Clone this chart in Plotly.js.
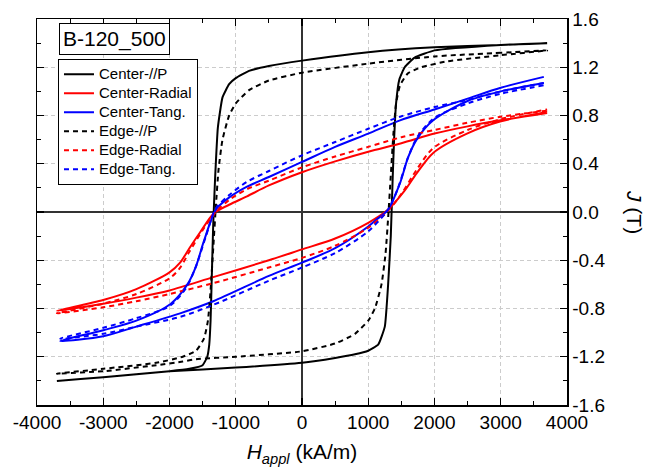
<!DOCTYPE html>
<html><head><meta charset="utf-8">
<script src="https://cdn.plot.ly/plotly-3.0.1.min.js"></script>
<style>html,body{margin:0;padding:0;background:#fff}</style>
</head><body><div id="chart" style="width:649px;height:471px"></div>
<script>
// ---- data (H in kA/m, J in T); each loop = descending branch then ascending branch ----
const seriesNames = ["Center-//P", "Center-Radial", "Center-Tang.", "Edge-//P", "Edge-Radial", "Edge-Tang."];

const centerP_H = [3700, 3000, 2000, 1000, 0, -500, -800, -1000, -1100, -1200, -1270, -1310, -1340, -1360, -1380, -1400, -1430, -1500, -1700, -2000, -3000, -3700,
                   -3000, -2000, -1000, 0, 500, 800, 1000, 1150, 1250, 1300, 1340, 1370, 1390, 1420, 1470, 1550, 1700, 2000, 3000, 3700];
const centerP_J = [1.40, 1.385, 1.365, 1.325, 1.255, 1.21, 1.17, 1.11, 1.06, 0.95, 0.70, 0.30, -0.10, -0.50, -0.90, -1.10, -1.20, -1.27, -1.30, -1.32, -1.37, -1.40,
                   -1.37, -1.32, -1.29, -1.25, -1.21, -1.18, -1.15, -1.10, -0.95, -0.60, -0.20, 0.30, 0.60, 0.90, 1.10, 1.20, 1.28, 1.34, 1.385, 1.40];

const edgeP_H = [3700, 3000, 2000, 1000, 0, -500, -800, -1000, -1100, -1200, -1260, -1300, -1340, -1380, -1420, -1480, -1600, -1800, -2200, -3000, -3700,
                 -3000, -2200, -1800, -1600, -1000, 0, 500, 800, 1000, 1100, 1200, 1260, 1300, 1340, 1380, 1420, 1480, 1600, 1800, 2200, 3000, 3700];
const edgeP_J = [1.34, 1.32, 1.29, 1.23, 1.155, 1.09, 1.01, 0.90, 0.80, 0.60, 0.35, 0.05, -0.30, -0.65, -0.90, -1.05, -1.15, -1.20, -1.25, -1.30, -1.34,
                 -1.32, -1.27, -1.24, -1.22, -1.20, -1.155, -1.09, -1.01, -0.90, -0.80, -0.60, -0.35, -0.05, 0.30, 0.65, 0.90, 1.05, 1.15, 1.20, 1.25, 1.30, 1.34];

const centerRad_H = [3700, 3000, 2500, 2000, 1500, 1000, 500, 0, -500, -830, -1100, -1330, -1540, -1700, -1840, -2000, -2500, -3000, -3700,
                     -3000, -2500, -2000, -1340, -500, 0, 500, 1000, 1300, 1540, 1730, 1980, 2490, 2990, 3700];
const centerRad_J = [0.82, 0.76, 0.71, 0.65, 0.57, 0.50, 0.42, 0.33, 0.22, 0.13, 0.06, -0.01, -0.17, -0.30, -0.42, -0.50, -0.64, -0.73, -0.82,
                     -0.76, -0.71, -0.65, -0.54, -0.40, -0.31, -0.22, -0.09, 0.02, 0.17, 0.32, 0.49, 0.65, 0.75, 0.83];

const edgeRad_H = [3700, 3000, 2500, 2000, 1500, 1000, 500, 0, -500, -830, -1100, -1300, -1500, -1700, -1850, -2000, -2500, -3000, -3700,
                   -3000, -2500, -2000, -1340, -500, 0, 500, 1000, 1300, 1500, 1730, 1980, 2500, 3000, 3700];
const edgeRad_J = [0.84, 0.79, 0.74, 0.68, 0.62, 0.54, 0.46, 0.37, 0.26, 0.19, 0.10, 0.00, -0.15, -0.33, -0.47, -0.55, -0.68, -0.76, -0.84,
                   -0.79, -0.74, -0.68, -0.59, -0.46, -0.38, -0.28, -0.13, 0.01, 0.15, 0.35, 0.53, 0.68, 0.77, 0.85];

const centerTan_H = [3650, 3000, 2500, 2000, 1480, 1000, 500, 0, -500, -830, -1100, -1300, -1480, -1600, -1730, -1980, -2500, -3000, -3650,
                     -3000, -2500, -1840, -1340, -500, 0, 500, 1000, 1130, 1300, 1480, 1600, 1730, 1980, 2500, 3000, 3650];
const centerTan_J = [1.12, 1.03, 0.94, 0.85, 0.76, 0.65, 0.54, 0.415, 0.29, 0.21, 0.12, 0.02, -0.24, -0.45, -0.60, -0.76, -0.90, -0.98, -1.07,
                     -1.03, -0.95, -0.84, -0.74, -0.53, -0.42, -0.30, -0.12, -0.06, 0.02, 0.24, 0.45, 0.60, 0.76, 0.92, 1.00, 1.07];

const edgeTan_H = [3650, 3000, 2500, 2000, 1480, 1000, 500, 0, -500, -830, -1100, -1300, -1450, -1600, -1750, -2000, -2500, -3000, -3650,
                   -3000, -2500, -1840, -1340, -500, 0, 500, 1000, 1300, 1450, 1600, 1750, 2000, 2500, 3000, 3650];
const edgeTan_J = [1.07, 1.00, 0.93, 0.87, 0.79, 0.69, 0.58, 0.47, 0.34, 0.25, 0.14, 0.03, -0.20, -0.45, -0.63, -0.78, -0.88, -0.96, -1.05,
                   -1.01, -0.95, -0.87, -0.77, -0.57, -0.46, -0.34, -0.16, 0.02, 0.20, 0.45, 0.63, 0.78, 0.90, 0.98, 1.05];

const xTickVals = [-4000, -3000, -2000, -1000, 0, 1000, 2000, 3000, 4000];
const xTickText = ["-4000", "-3000", "-2000", "-1000", "0", "1000", "2000", "3000", "4000"];
const yTickVals = [-1.6, -1.2, -0.8, -0.4, 0, 0.4, 0.8, 1.2, 1.6];
const yTickText = ["-1.6", "-1.2", "-0.8", "-0.4", "0.0", "0.4", "0.8", "1.2", "1.6"];
const sampleLabel = "B-120_500";

// ---- traces ----
function tr(name, x, y, color, dash, smooth) {
  return {type: "scatter", mode: "lines",
          name: '<span style="font-size:15px">' + name + '</span>', x: x, y: y,
          line: {color: color, width: 2, dash: dash, shape: "spline", smoothing: smooth}};
}
const data = [
  tr(seriesNames[0], centerP_H, centerP_J, "#000000", "solid", 0.4),
  tr(seriesNames[1], centerRad_H, centerRad_J, "#ff0000", "solid", 0.8),
  tr(seriesNames[2], centerTan_H, centerTan_J, "#0000ff", "solid", 0.8),
  tr(seriesNames[3], edgeP_H, edgeP_J, "#000000", "5px,4px", 0.5),
  tr(seriesNames[4], edgeRad_H, edgeRad_J, "#ff0000", "5px,4px", 0.8),
  tr(seriesNames[5], edgeTan_H, edgeTan_J, "#0000ff", "5px,4px", 0.8)
];

const axisCommon = {
  showline: true, linecolor: "#000", linewidth: 1.5, mirror: "allticks",
  ticks: "inside", ticklen: 7, tickwidth: 1.2, tickcolor: "#000",
  showgrid: true, gridcolor: "#cccccc", gridwidth: 1, griddash: "4px,3px",
  zeroline: true, zerolinecolor: "#333333", zerolinewidth: 2,
  tickfont: {family: "Liberation Sans, Arial, sans-serif", size: 19, color: "#000"}
};

const layout = {
  width: 649, height: 471,
  margin: {l: 37, r: 82, t: 19, b: 66},
  paper_bgcolor: "#fff", plot_bgcolor: "#fff",
  showlegend: true,
  xaxis: Object.assign({}, axisCommon, {
    range: [-4000, 4000], tickmode: "array", tickvals: xTickVals, ticktext: xTickText,
    minor: {dtick: 500, ticks: "inside", ticklen: 4, tickcolor: "#000", showgrid: false},
    title: {text: "<i>H</i><sub><i>appl</i></sub> (kA/m)", standoff: 12,
            font: {family: "Liberation Sans, Arial, sans-serif", size: 21, color: "#000"}}
  }),
  yaxis: Object.assign({}, axisCommon, {
    range: [-1.6, 1.6], side: "right", tickmode: "array", tickvals: yTickVals, ticktext: yTickText,
    minor: {dtick: 0.2, ticks: "inside", ticklen: 4, tickcolor: "#000", showgrid: false}
  }),
  legend: {x: 0.0396, y: 0.897, xanchor: "left", yanchor: "top",
           bgcolor: "#fff", bordercolor: "#000", borderwidth: 1,
           font: {family: "Liberation Sans, Arial, sans-serif", size: 12, color: "#000"},
           tracegroupgap: 0},
  annotations: [
    {text: sampleLabel, xref: "paper", yref: "paper", x: 0.0415, y: 0.99, xanchor: "left", yanchor: "top",
     showarrow: false, bordercolor: "#000", borderwidth: 1, borderpad: 3, bgcolor: "#fff",
     font: {family: "Liberation Sans, Arial, sans-serif", size: 21, color: "#000"}},
    {text: "<i>J</i> (T)", xref: "paper", yref: "paper", x: 1, y: 0.5, xanchor: "center", yanchor: "middle",
     xshift: 68, textangle: 90, showarrow: false,
     font: {family: "Liberation Sans, Arial, sans-serif", size: 21, color: "#000"}}
  ]
};

Plotly.newPlot("chart", data, layout, {displayModeBar: false, staticPlot: true});
</script></body></html>
